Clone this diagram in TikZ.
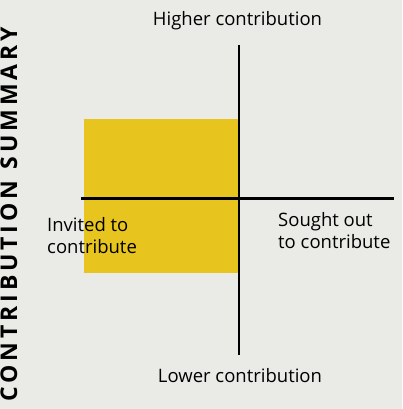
\documentclass[tikz,border=0pt]{standalone}
\usepackage{fontspec}
\setmainfont{Open Sans}
\definecolor{bg}{HTML}{EAEAE6}
\definecolor{gold}{HTML}{E8C51E}
\begin{document}
\begin{tikzpicture}[x=1pt,y=1pt,
  axis/.style={line width=2.8pt,black},
  lbl/.style={font=\fontsize{18.5}{22}\selectfont,inner sep=0pt,anchor=base},
  lbll/.style={lbl,align=left,anchor=base west}]
\useasboundingbox[fill=bg] (0,0) rectangle (402,409);
\fill[gold] (84,136) rectangle (238,290);
\coordinate (t) at (239,364);
\coordinate (b) at (239,54);
\coordinate (l) at (81,210.5);
\coordinate (r) at (394,210.5);
\draw[axis] (t) -- (b);
\draw[axis] (l) -- (r);
\node[lbl] (hi) at (237.5,383) {Higher contribution};
\node[lbl] (lo) at (240,26) {Lower contribution};
\node[lbll] (so) at (278,160) {Sought out\\to contribute};
\node[lbll] (in) at (47,155) {Invited to\\contribute};
\node[rotate=90,font=\fontsize{23}{28}\bfseries\selectfont,inner sep=0pt] (title) at (9,194.5) {C\,O\,N\,T\,R\,I\,B\,U\,T\,I\,O\,N\ \ S\,U\,M\,M\,A\,R\,Y};
\end{tikzpicture}
\end{document}
